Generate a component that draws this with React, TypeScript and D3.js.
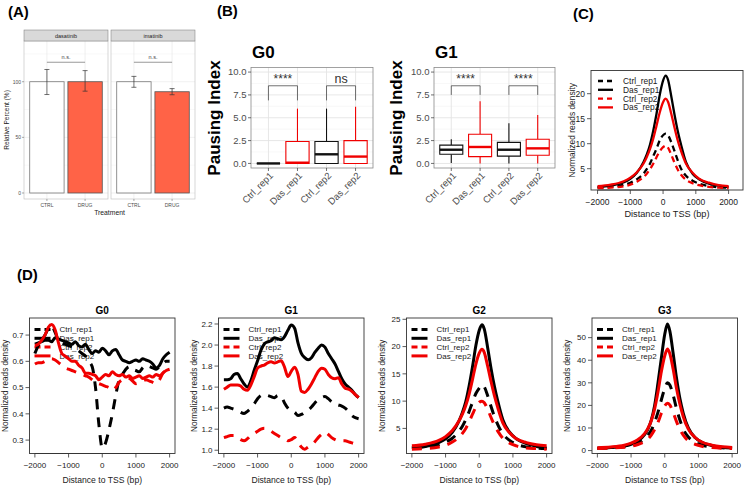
import React from "react";
import * as d3 from "d3";

const FONT = "'Liberation Sans', Arial, Helvetica, sans-serif";

// ---------- Panel A data ----------
const drugs = ["dasatinib", "imatinib"];
const treatments = ["CTRL", "DRUG"];
const relPercent = [[100, 100], [100, 91]];
const errLow = [[88.5, 91.5], [95, 88.3]];
const errHigh = [[111, 110], [104.8, 93.8]];
const aTicks = [0, 50, 100];
const aSig = ["n.s.", "n.s."];

// ---------- Panel B data ----------
const groups = ["Ctrl_rep1", "Das_rep1", "Ctrl_rep2", "Das_rep2"];
const bTicks = [0, 2.5, 5, 7.5, 10];
// [lower whisker, q1, median, q3, upper whisker]
const g0Box = [[0, 0, 0, 0, 0], [0, 0, 0.08, 2.4, 6.0], [0, 0, 1.0, 2.4, 6.0], [0, 0, 0.75, 2.5, 6.2]];
const g1Box = [[0.05, 1.0, 1.5, 2.0, 2.65], [0, 0.75, 1.8, 3.2, 6.8], [0, 0.8, 1.5, 2.3, 4.4], [0, 0.9, 1.65, 2.65, 5.3]];
const g0Sig = ["****", "ns"];
const g1Sig = ["****", "****"];

// ---------- Profile data ----------
const seriesNames = ["Ctrl_rep1", "Das_rep1", "Ctrl_rep2", "Das_rep2"];
const xTicks = [-2000, -1000, 0, 1000, 2000];
const stepX = [-2000, -1900, -1800, -1700, -1600, -1500, -1400, -1300, -1200, -1100, -1000, -900, -800, -700, -600, -500, -400, -300, -200, -100, 0, 100, 200, 300, 400, 500, 600, 700, 800, 900, 1000, 1100, 1200, 1300, 1400, 1500, 1600, 1700, 1800, 1900, 2000];
const peakX = [-2000, -1600, -1200, -1000, -800, -600, -500, -400, -300, -200, -100, 0, 80, 150, 250, 350, 450, 550, 700, 900, 1100, 1400, 1700, 2000];

// Panel C
const cCtrl1 = [1.2, 1.4, 1.8, 2.2, 2.9, 4.0, 4.9, 6.0, 7.5, 9.0, 10.7, 11.7, 12.0, 11.7, 10.3, 8.5, 6.6, 5.0, 3.6, 2.6, 2.0, 1.5, 1.3, 1.2];
const cDas1 = [1.3, 1.6, 2.3, 3.0, 4.2, 6.3, 7.8, 9.8, 12.6, 16.0, 19.8, 22.6, 23.6, 22.8, 19.5, 15.8, 12.5, 9.8, 6.3, 4.0, 2.9, 2.0, 1.6, 1.3];
const cCtrl2 = [1.1, 1.2, 1.5, 1.8, 2.4, 3.3, 4.0, 4.9, 6.0, 7.3, 8.5, 9.3, 9.6, 9.2, 7.8, 6.2, 4.8, 3.8, 2.8, 2.1, 1.7, 1.35, 1.2, 1.1];
const cDas2 = [1.5, 1.8, 2.5, 3.2, 4.3, 6.0, 7.3, 8.9, 11.0, 13.6, 16.3, 18.3, 19.0, 18.4, 16.0, 13.2, 10.6, 8.5, 6.0, 4.2, 3.0, 2.2, 1.7, 1.5];

// Panel D - G0
const g0Ctrl1 = [0.63, 0.66, 0.68, 0.70, 0.725, 0.735, 0.71, 0.68, 0.67, 0.665, 0.66, 0.655, 0.65, 0.64, 0.63, 0.62, 0.60, 0.58, 0.50, 0.36, 0.27, 0.29, 0.34, 0.40, 0.47, 0.53, 0.55, 0.57, 0.58, 0.57, 0.565, 0.56, 0.575, 0.585, 0.58, 0.575, 0.57, 0.58, 0.59, 0.60, 0.60];
const g0Das1 = [0.665, 0.67, 0.675, 0.68, 0.68, 0.675, 0.69, 0.685, 0.68, 0.675, 0.67, 0.665, 0.675, 0.66, 0.655, 0.665, 0.645, 0.63, 0.64, 0.635, 0.65, 0.64, 0.625, 0.64, 0.645, 0.625, 0.605, 0.60, 0.595, 0.60, 0.605, 0.60, 0.61, 0.605, 0.60, 0.59, 0.575, 0.585, 0.61, 0.625, 0.635];
const g0Ctrl2 = [0.59, 0.595, 0.595, 0.60, 0.605, 0.61, 0.605, 0.595, 0.585, 0.575, 0.57, 0.565, 0.56, 0.555, 0.55, 0.545, 0.54, 0.53, 0.52, 0.515, 0.51, 0.505, 0.50, 0.49, 0.50, 0.52, 0.53, 0.535, 0.535, 0.525, 0.515, 0.52, 0.525, 0.53, 0.525, 0.52, 0.515, 0.53, 0.555, 0.565, 0.57];
const g0Das2 = [0.66, 0.665, 0.68, 0.70, 0.73, 0.74, 0.72, 0.67, 0.63, 0.62, 0.61, 0.60, 0.60, 0.585, 0.575, 0.555, 0.555, 0.55, 0.545, 0.53, 0.54, 0.55, 0.545, 0.56, 0.55, 0.545, 0.55, 0.54, 0.545, 0.535, 0.54, 0.545, 0.535, 0.54, 0.545, 0.54, 0.55, 0.545, 0.555, 0.565, 0.57];

// Panel D - G1
const g1Ctrl1 = [1.40, 1.41, 1.40, 1.39, 1.38, 1.36, 1.35, 1.37, 1.40, 1.44, 1.49, 1.52, 1.53, 1.52, 1.51, 1.50, 1.52, 1.51, 1.45, 1.40, 1.37, 1.36, 1.33, 1.34, 1.36, 1.38, 1.41, 1.45, 1.48, 1.50, 1.51, 1.49, 1.46, 1.44, 1.43, 1.42, 1.40, 1.37, 1.33, 1.31, 1.30];
const g1Das1 = [1.67, 1.67, 1.68, 1.72, 1.73, 1.68, 1.63, 1.60, 1.66, 1.76, 1.85, 1.95, 2.01, 2.03, 2.04, 2.07, 2.06, 2.05, 2.08, 2.14, 2.19, 2.16, 2.02, 1.92, 1.88, 1.86, 1.88, 1.93, 1.97, 2.00, 1.98, 1.92, 1.87, 1.82, 1.75, 1.68, 1.63, 1.60, 1.57, 1.53, 1.50];
const g1Ctrl2 = [1.12, 1.13, 1.14, 1.14, 1.12, 1.10, 1.09, 1.11, 1.14, 1.16, 1.18, 1.20, 1.21, 1.20, 1.18, 1.16, 1.14, 1.12, 1.11, 1.09, 1.10, 1.12, 1.08, 1.03, 1.01, 1.03, 1.05, 1.08, 1.12, 1.15, 1.17, 1.15, 1.12, 1.10, 1.09, 1.09, 1.09, 1.08, 1.07, 1.06, 1.05];
const g1Das2 = [1.58, 1.60, 1.62, 1.62, 1.62, 1.61, 1.58, 1.57, 1.62, 1.70, 1.78, 1.80, 1.81, 1.83, 1.84, 1.83, 1.84, 1.85, 1.79, 1.70, 1.75, 1.79, 1.72, 1.56, 1.55, 1.58, 1.63, 1.69, 1.75, 1.78, 1.77, 1.72, 1.69, 1.68, 1.69, 1.63, 1.59, 1.58, 1.56, 1.53, 1.50];

// Panel D - G2
const g2Ctrl1 = [1.4, 1.6, 2.0, 2.5, 3.2, 4.5, 5.4, 6.6, 8.1, 9.8, 11.4, 12.4, 13.0, 12.6, 11.0, 9.0, 7.2, 5.7, 4.0, 2.8, 2.1, 1.6, 1.4, 1.3];
const g2Das1 = [1.4, 1.7, 2.4, 3.1, 4.3, 6.4, 7.9, 9.9, 12.8, 16.3, 20.2, 23.0, 24.0, 23.2, 19.8, 16.0, 12.7, 10.0, 6.6, 4.3, 3.1, 2.2, 1.7, 1.4];
const g2Ctrl2 = [1.2, 1.3, 1.6, 1.9, 2.5, 3.4, 4.1, 5.0, 6.2, 7.6, 8.9, 9.8, 10.0, 9.7, 8.5, 7.0, 5.6, 4.5, 3.2, 2.3, 1.8, 1.4, 1.3, 1.2];
const g2Das2 = [1.8, 2.1, 2.8, 3.5, 4.6, 6.4, 7.6, 9.2, 11.3, 14.0, 16.8, 18.8, 19.5, 18.9, 16.4, 13.6, 11.0, 8.8, 6.0, 4.2, 3.1, 2.4, 2.0, 1.8];

// Panel D - G3
const g3Ctrl1 = [1.0, 1.2, 1.7, 2.3, 3.3, 5.2, 6.8, 9.0, 12.5, 17.0, 22.5, 27.5, 30.0, 29.0, 24.5, 18.5, 13.5, 9.5, 6.0, 3.7, 2.4, 1.6, 1.2, 1.0];
const g3Das1 = [1.0, 1.3, 2.0, 2.8, 4.2, 7.0, 9.5, 13.5, 20.0, 30.0, 41.0, 51.5, 56.0, 53.0, 43.0, 32.0, 23.0, 16.5, 10.0, 5.8, 3.7, 2.2, 1.5, 1.1];
const g3Ctrl2 = [0.9, 1.1, 1.5, 1.9, 2.7, 4.0, 5.1, 6.8, 9.3, 12.5, 16.5, 19.8, 21.0, 20.2, 16.8, 12.8, 9.3, 6.8, 4.3, 2.8, 1.9, 1.3, 1.0, 0.9];
const g3Das2 = [1.3, 1.6, 2.4, 3.3, 4.8, 7.5, 9.8, 13.2, 18.5, 26.0, 35.0, 42.0, 45.0, 43.0, 36.0, 27.5, 20.5, 15.0, 9.5, 5.8, 3.8, 2.4, 1.7, 1.4];

const RED = "#f00000";
const seriesStyle = [
  { color: "#000", dashed: true },
  { color: "#000", dashed: false },
  { color: RED, dashed: true },
  { color: RED, dashed: false },
];

// ---------- Panel A ----------
function PanelA() {
  const top = 41, bottom = 199;
  const y = d3.scaleLinear().domain([-5.4, 136.6]).range([bottom, top]);
  const panels = [{ x0: 24, x1: 108 }, { x0: 111, x1: 195 }];
  return (
    <g>
      {panels.map((p, i) => {
        const x = d3.scalePoint<string>().domain(treatments).range([p.x0, p.x1]).padding(0.6);
        const bw = x.step() * 0.9;
        return (
          <g key={i}>
            <rect x={p.x0} y={top} width={p.x1 - p.x0} height={bottom - top} fill="#fff" />
            {[25, 75, 125].map((t) => (
              <line key={"m" + t} x1={p.x0} x2={p.x1} y1={y(t)} y2={y(t)} stroke="#f3f3f3" strokeWidth={0.5} />
            ))}
            {aTicks.map((t) => (
              <line key={"g" + t} x1={p.x0} x2={p.x1} y1={y(t)} y2={y(t)} stroke="#e6e6e6" strokeWidth={0.6} />
            ))}
            {treatments.map((t) => (
              <line key={"v" + t} x1={x(t)} x2={x(t)} y1={top} y2={bottom} stroke="#e6e6e6" strokeWidth={0.6} />
            ))}
            <rect x={p.x0} y={top} width={p.x1 - p.x0} height={bottom - top} fill="none" stroke="#bdbdbd" strokeWidth={0.6} />
            <rect x={p.x0} y={30} width={p.x1 - p.x0} height={11} fill="#d9d9d9" stroke="#777" strokeWidth={0.5} />
            <text x={(p.x0 + p.x1) / 2} y={37.5} fontSize={5.5} textAnchor="middle" fill="#1a1a1a">{drugs[i]}</text>
            {treatments.map((t, j) => (
              <g key={t}>
                <rect x={(x(t) as number) - bw / 2} y={y(relPercent[i][j])} width={bw} height={y(0) - y(relPercent[i][j])}
                  fill={j === 0 ? "#fff" : "#ff6347"} stroke={j === 0 ? "#777" : "#555"} strokeWidth={0.8} />
                <line x1={x(t)} x2={x(t)} y1={y(errLow[i][j])} y2={y(errHigh[i][j])} stroke="#333" strokeWidth={0.7} />
                <line x1={(x(t) as number) - 2.5} x2={(x(t) as number) + 2.5} y1={y(errLow[i][j])} y2={y(errLow[i][j])} stroke="#333" strokeWidth={0.7} />
                <line x1={(x(t) as number) - 2.5} x2={(x(t) as number) + 2.5} y1={y(errHigh[i][j])} y2={y(errHigh[i][j])} stroke="#333" strokeWidth={0.7} />
                <line x1={x(t)} x2={x(t)} y1={bottom} y2={bottom + 2} stroke="#555" strokeWidth={0.5} />
                <text x={x(t)} y={bottom + 7.5} fontSize={5} textAnchor="middle" fill="#4d4d4d">{t}</text>
              </g>
            ))}
            <line x1={x("CTRL")} x2={x("DRUG")} y1={y(117.5)} y2={y(117.5)} stroke="#555" strokeWidth={0.6} />
            <text x={((x("CTRL") as number) + (x("DRUG") as number)) / 2} y={y(120.5)} fontSize={5.5} textAnchor="middle" fill="#444">{aSig[i]}</text>
          </g>
        );
      })}
      {aTicks.map((t) => (
        <g key={t}>
          <line x1={22} x2={24} y1={y(t)} y2={y(t)} stroke="#555" strokeWidth={0.5} />
          <text x={21} y={y(t) + 1.8} fontSize={5} textAnchor="end" fill="#4d4d4d">{t}</text>
        </g>
      ))}
      <text transform={`translate(9,${(top + bottom) / 2}) rotate(-90)`} fontSize={6.5} textAnchor="middle" fill="#1a1a1a">Relative Percent (%)</text>
      <text x={109.5} y={214.5} fontSize={6.8} textAnchor="middle" fill="#1a1a1a">Treatment</text>
    </g>
  );
}

// ---------- Panel B ----------
function BoxPanel({ x0, x1, title, data, sig, legDown, ylabX }: any) {
  const top = 67.5, bottom = 168;
  const y = d3.scaleLinear().domain([-0.5, 10.5]).range([bottom, top]);
  const x = d3.scalePoint<string>().domain(groups).range([x0, x1]).padding(0.6);
  const bw = x.step() * 0.8;
  const minor = [1.25, 3.75, 6.25, 8.75];
  const brackets = [[0, 1], [2, 3]];
  return (
    <g>
      <rect x={x0} y={top} width={x1 - x0} height={bottom - top} fill="#fff" />
      {minor.map((t) => (
        <line key={"mn" + t} x1={x0} x2={x1} y1={y(t)} y2={y(t)} stroke="#f4f4f4" strokeWidth={0.6} />
      ))}
      {bTicks.map((t) => (
        <line key={"mj" + t} x1={x0} x2={x1} y1={y(t)} y2={y(t)} stroke="#e4e4e4" strokeWidth={0.9} />
      ))}
      {groups.map((g) => (
        <line key={"vg" + g} x1={x(g)} x2={x(g)} y1={top} y2={bottom} stroke="#e4e4e4" strokeWidth={0.9} />
      ))}
      {groups.map((g, i) => {
        const [lo, q1, md, q3, hi] = data[i];
        const cx = x(g) as number;
        const col = i % 2 === 0 ? "#111" : RED;
        return (
          <g key={g}>
            <line x1={cx} x2={cx} y1={y(q3)} y2={y(hi)} stroke={col} strokeWidth={1.1} />
            <line x1={cx} x2={cx} y1={y(q1)} y2={y(lo)} stroke={col} strokeWidth={1.1} />
            <path d={`M${cx - bw / 2},${y(q3)}H${cx + bw / 2}V${y(q1)}H${cx - bw / 2}Z`} fill="#fff" stroke={col} strokeWidth={1.1} />
            <line x1={cx - bw / 2} x2={cx + bw / 2} y1={y(md)} y2={y(md)} stroke={col} strokeWidth={2.4} />
          </g>
        );
      })}
      <rect x={x0} y={top} width={x1 - x0} height={bottom - top} fill="none" stroke="#8a8a8a" strokeWidth={0.8} />
      {brackets.map(([a, b], k) => {
        const xa = x(groups[a]) as number, xb = x(groups[b]) as number;
        return (
          <g key={k}>
            <path d={`M${xa},${y(legDown)}V${y(8.5)}H${xb}V${y(legDown)}`} fill="none" stroke="#333" strokeWidth={0.7} />
            <text x={(xa + xb) / 2} y={y(8.5) - 2.5} fontSize={sig[k] === "ns" ? 12.5 : 12} textAnchor="middle" fill="#333">{sig[k]}</text>
          </g>
        );
      })}
      {bTicks.map((t) => (
        <g key={"t" + t}>
          <line x1={x0 - 3} x2={x0} y1={y(t)} y2={y(t)} stroke="#333" strokeWidth={0.7} />
          <text x={x0 - 4.5} y={y(t) + 3.4} fontSize={9.5} textAnchor="end" fill="#4d4d4d">{t.toFixed(1)}</text>
        </g>
      ))}
      {groups.map((g) => (
        <g key={"x" + g}>
          <line x1={x(g)} x2={x(g)} y1={bottom} y2={bottom + 3} stroke="#333" strokeWidth={0.7} />
          <text transform={`translate(${(x(g) as number) + 3},${bottom + 6}) rotate(-45)`} fontSize={9.5} textAnchor="end" dy="0.35em" fill="#4d4d4d">{g}</text>
        </g>
      ))}
      <text x={x0 + 1} y={58} fontSize={17} fontWeight="bold" fill="#000">{title}</text>
      <text transform={`translate(${ylabX},118) rotate(-90)`} fontSize={17} fontWeight="bold" textAnchor="middle" fill="#000">Pausing Index</text>
    </g>
  );
}

// ---------- Profile panels ----------
function LinePanel(props: any) {
  const { left, top, width, height, xDomain, yDomain, yTicks, yFmt, xs, ys, title, lw, dash,
    legend, tickFs, tickDy, xTitleDy, xTitleFs, yTitleDx, yTitleFs, legendFs } = props;
  const bottom = top + height;
  const x = d3.scaleLinear().domain(xDomain).range([left, left + width]);
  const y = d3.scaleLinear().domain(yDomain).range([bottom, top]);
  const line = d3.line<[number, number]>().x((d) => x(d[0])).y((d) => y(d[1])).curve(d3.curveMonotoneX);
  const txt = "#222";
  return (
    <g>
      <rect x={left} y={top} width={width} height={height} fill="#fff" stroke="#333" strokeWidth={0.9} />
      {/* legend */}
      {seriesNames.map((s, i) => (
        <g key={"lg" + s}>
          <line x1={left + legend.lx0} x2={left + legend.lx1} y1={legend.y0 + i * legend.dy} y2={legend.y0 + i * legend.dy}
            stroke={seriesStyle[i].color} strokeWidth={lw} strokeDasharray={seriesStyle[i].dashed ? legend.dash : undefined} />
          <text x={left + legend.tx} y={legend.y0 + i * legend.dy + legendFs * 0.36} fontSize={legendFs} fill={txt}>{s}</text>
        </g>
      ))}
      {ys.map((vals: number[], i: number) => (
        <path key={"s" + i} d={line(xs.map((xv: number, k: number) => [xv, vals[k]])) as string} fill="none"
          stroke={seriesStyle[i].color} strokeWidth={lw} strokeDasharray={seriesStyle[i].dashed ? dash : undefined} strokeLinejoin="round" />
      ))}
      {/* x axis */}
      <line x1={x(xTicks[0])} x2={x(xTicks[xTicks.length - 1])} y1={bottom} y2={bottom} stroke="#333" strokeWidth={0.9} />
      {xTicks.map((t) => (
        <g key={"xt" + t}>
          <line x1={x(t)} x2={x(t)} y1={bottom} y2={bottom + 4} stroke="#333" strokeWidth={0.8} />
          <text x={x(t)} y={bottom + tickDy} fontSize={tickFs} textAnchor="middle" fill={txt}>{t < 0 ? "\u2212" + Math.abs(t) : String(t)}</text>
        </g>
      ))}
      {yTicks.map((t: number) => (
        <g key={"yt" + t}>
          <line x1={left - 4} x2={left} y1={y(t)} y2={y(t)} stroke="#333" strokeWidth={0.8} />
          <text x={left - 6} y={y(t) + tickFs * 0.35} fontSize={tickFs} textAnchor="end" fill={txt}>{yFmt(t)}</text>
        </g>
      ))}
      <text x={left + width / 2} y={bottom + xTitleDy} fontSize={xTitleFs} textAnchor="middle" fill={txt}>Distance to TSS (bp)</text>
      <text transform={`translate(${left + yTitleDx},${top + height / 2}) rotate(-90)`} fontSize={yTitleFs} textAnchor="middle" fill={txt}>Normalized reads density</text>
      {title && <text x={left + width / 2} y={top - 4} fontSize={10} fontWeight="bold" textAnchor="middle" fill="#000">{title}</text>}
    </g>
  );
}

const dLegend = { lx0: 5, lx1: 21, tx: 30, y0: 329.5, dy: 8.8, dash: "6,4" };
const cLegend = { lx0: 7, lx1: 22, tx: 32, y0: 81, dy: 8.8, dash: "5,4" };

const dCommon = {
  top: 318, width: 145.5, height: 135.5, xDomain: [-2160, 2160], lw: 3, dash: "10,8",
  legend: dLegend, tickFs: 8, tickDy: 14.5, xTitleDy: 29.5, xTitleFs: 8.6, yTitleDx: -22, yTitleFs: 8.2, legendFs: 8,
};

export default function App() {
  return (
    <svg width={744} height={487} viewBox="0 0 744 487" style={{ position: "absolute", left: 0, top: 0, fontFamily: FONT }}>
      <rect width={744} height={487} fill="#fff" />
      <text x={8} y={17} fontSize={15} fontWeight="bold">(A)</text>
      <text x={217} y={16} fontSize={15} fontWeight="bold">(B)</text>
      <text x={573} y={19} fontSize={15} fontWeight="bold">(C)</text>
      <text x={17} y={280} fontSize={15} fontWeight="bold">(D)</text>
      <PanelA />
      <BoxPanel x0={251} x1={373} title="G0" data={g0Box} sig={g0Sig} legDown={6.9} ylabX={220} />
      <BoxPanel x0={434} x1={555} title="G1" data={g1Box} sig={g1Sig} legDown={7.5} ylabX={402} />
      <LinePanel left={591} top={70.5} width={152} height={119.5} xDomain={[-2200, 2440]} yDomain={[0.74, 24.64]}
        yTicks={[5, 10, 15, 20]} yFmt={(t: number) => String(t)} xs={peakX} ys={[cCtrl1, cDas1, cCtrl2, cDas2]}
        lw={2.3} dash="6,4" legend={cLegend} tickFs={8.5} tickDy={15} xTitleDy={27} xTitleFs={9.2} yTitleDx={-16} yTitleFs={8.4} legendFs={8.4} />
      <LinePanel {...dCommon} left={29.5} yDomain={[0.249, 0.765]} yTicks={[0.3, 0.4, 0.5, 0.6, 0.7]}
        yFmt={(t: number) => t.toFixed(1)} xs={stepX} ys={[g0Ctrl1, g0Das1, g0Ctrl2, g0Das2]} title="G0" />
      <LinePanel {...dCommon} left={218.5} yDomain={[0.969, 2.257]} yTicks={[1.0, 1.2, 1.4, 1.6, 1.8, 2.0, 2.2]}
        yFmt={(t: number) => t.toFixed(1)} xs={stepX} ys={[g1Ctrl1, g1Das1, g1Ctrl2, g1Das2]} title="G1" />
      <LinePanel {...dCommon} left={406.5} yDomain={[0.4, 25.24]} yTicks={[5, 10, 15, 20, 25]}
        yFmt={(t: number) => String(t)} xs={peakX} ys={[g2Ctrl1, g2Das1, g2Ctrl2, g2Das2]} title="G2" />
      <LinePanel {...dCommon} left={592} yDomain={[-1.3, 58.7]} yTicks={[0, 10, 20, 30, 40, 50]}
        yFmt={(t: number) => String(t)} xs={peakX} ys={[g3Ctrl1, g3Das1, g3Ctrl2, g3Das2]} title="G3" />
    </svg>
  );
}
